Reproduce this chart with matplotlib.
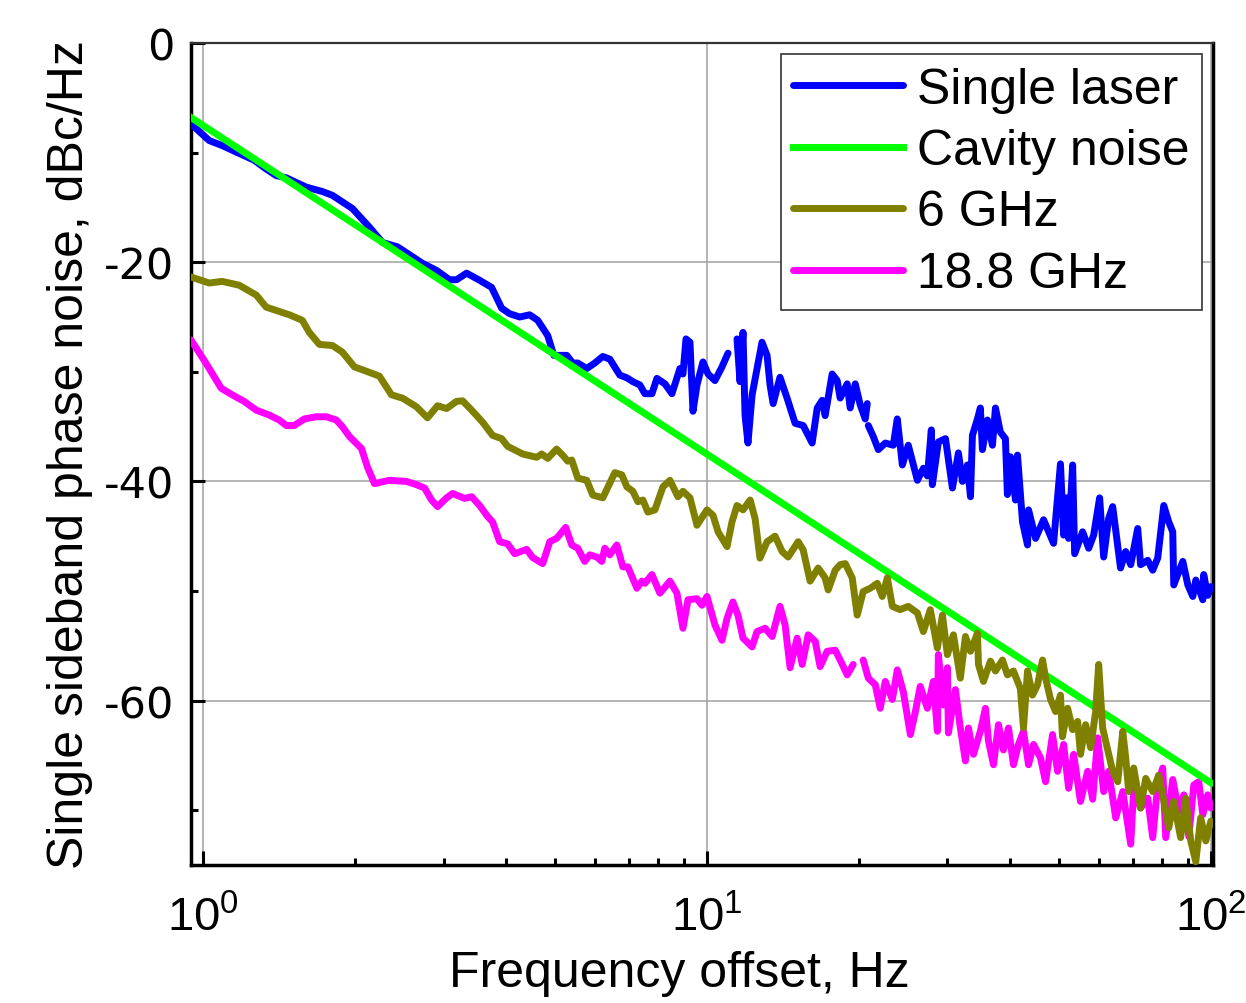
import matplotlib
matplotlib.use("Agg")
import matplotlib.pyplot as plt
from matplotlib.ticker import FixedLocator, LogLocator, NullFormatter, LogFormatterMathtext
import numpy as np

plt.rcParams["axes.unicode_minus"] = False

# Single laser
laser_freq = [0.946, 1.028, 1.091, 1.163, 1.263, 1.334, 1.397, 1.462, 1.602, 1.724, 1.805, 1.978, 2.138, 2.269,
              2.431, 2.603, 2.725, 2.906, 3.084, 3.184, 3.333, 3.538, 3.737, 3.913, 4.058, 4.249, 4.447, 4.613,
              4.83, 4.965, 5.103, 5.268, 5.415, 5.54, 5.772, 5.988, 6.212, 6.415, 6.714, 6.934, 7.127, 7.358,
              7.529, 7.776, 7.955, 8.252, 8.519, 8.837, 8.96, 9.085, 9.252, 9.38, 9.553, 9.818, 10.05, 10.37,
              10.71, 11.01, 11.2, 11.47, 11.63, 11.79, 11.90, 12.06, 12.29, 12.57, 12.86, 13.16, 13.34, 13.53,
              13.96, 14.42, 14.96, 15.52, 16.17, 16.55, 16.93, 17.16, 17.72, 18.13, 18.38, 18.98, 19.24, 19.69,
              20.14, 20.61, 20.80, 20.85, 20.90, 21.38, 21.88, 22.59, 23.43, 23.86, 24.42, 25.09, 26.16, 26.88,
              27.38, 27.88, 28.01, 28.79, 29.74, 30.70, 31.55, 32.14, 32.88, 33.34, 33.64, 34.42, 34.88, 35.21,
              36.03, 36.86, 37.37, 38.22, 39.11, 39.47, 40.02, 40.95, 41.33, 42.29, 43.27, 43.47, 44.89, 46.56,
              48.74, 50.30, 51.03, 51.74, 52.21, 53.18, 53.67, 55.66, 57.22, 58.54, 60.16, 61.28, 62.69, 63.86,
              66.19, 67.76, 69.34, 71.6, 72.54, 74.95, 76.68, 78.45, 80.65, 82.51, 84.03, 84.42, 87.98, 90.03,
              92.1, 93.37, 96.4, 96.8, 98.6, 100.0]
laser_db = [-7.38, -8.9, -9.36, -9.95, -10.7, -11.5, -12.1, -12.3, -13.15, -13.55, -13.9, -15.1, -16.8, -18.2,
            -18.6, -19.5, -20.1, -20.75, -21.6, -21.6, -21.0, -21.65, -22.3, -24.2, -24.7, -25.0, -24.8, -25.3,
            -26.7, -28.5, -28.5, -28.5, -29.2, -29.2, -29.7, -29.2, -28.6, -28.85, -30.3, -30.55, -30.9, -31.2,
            -32.0, -32.0, -30.6, -31.1, -32.0, -29.7, -30.2, -27.0, -27.3, -33.6, -31.2, -29.1, -30.2, -30.8,
            -29.55, -28.3, np.nan, -27.0, -30.9, -26.4, -34.0, -36.5, -32.1, -29.7, -27.3, -28.5, -31.2, -32.9,
            -30.5, -32.4, -34.7, -34.9, -36.5, -33.3, -32.6, -34.0, -30.2, -30.8, -32.4, -31.1, -33.3, -31.1,
            -33.0, -34.3, -32.9, np.nan, -34.9, -35.9, -37.1, -36.5, -36.7, -34.3, -38.5, -36.7, -39.9, -38.8,
            -39.5, -35.3, -40.3, -36.4, -36.1, -40.6, -37.4, -40.0, -38.5, -41.4, -35.8, -34.3, -33.3, -37.1,
            -34.4, -36.7, -33.3, -35.5, -36.1, -41.2, -37.75, -41.7, -37.6, -43.7, -45.8, -42.6, -45.2, -43.5,
            -45.65, -38.4, -44.9, -41.5, -45.2, -38.5, -46.6, -44.6, -46.1, -44.9, -41.5, -46.9, -43.4, -42.3,
            -47.9, -46.4, -47.6, -44.3, -47.6, -47.2, -48.1, -47.0, -42.2, -43.7, -44.6, -49.45, -47.3, -49.45,
            -50.5, -49.0, -50.8, -48.5, -50.4, -49.6]

# Cavity noise (straight 1/f^3 line)
cavity_freq = [0.946, 100.0]
cavity_db = [-6.8, -67.5]

# 6 GHz
ghz6_freq = [0.946, 1.028, 1.091, 1.179, 1.275, 1.334, 1.416, 1.483, 1.573, 1.624, 1.701, 1.805, 1.889, 1.996,
             2.109, 2.238, 2.365, 2.487, 2.652, 2.788, 2.919, 3.042, 3.184, 3.273, 3.411, 3.587, 3.754, 3.913,
             4.021, 4.308, 4.592, 4.699, 4.83, 5.03, 5.17, 5.29, 5.39, 5.54, 5.772, 5.934, 6.212, 6.563, 6.776,
             6.934, 7.127, 7.292, 7.461, 7.633, 7.882, 8.176, 8.443, 8.757, 8.96, 9.252, 9.553, 10.0, 10.28,
             10.52, 10.96, 11.21, 11.47, 11.79, 12.18, 12.46, 12.74, 13.16, 13.65, 14.10, 14.49, 15.17, 15.52,
             16.02, 16.62, 17.16, 17.40, 17.97, 18.38, 18.81, 19.42, 19.87, 20.42, 21.09, 21.78, 22.28, 22.80,
             23.33, 24.18, 25.09, 26.16, 26.88, 27.75, 28.66, 29.33, 30.00, 30.84, 31.83, 32.58, 33.34, 34.42,
             34.58, 35.38, 36.52, 37.37, 38.59, 39.47, 40.58, 41.88, 42.48, 43.27, 44.27, 45.30, 46.35, 46.99,
             48.08, 49.19, 50.30, 50.76, 51.97, 53.18, 54.41, 55.12, 56.43, 57.74, 59.08, 59.90, 61.0, 61.84,
             63.86, 65.35, 66.87, 67.76, 68.71, 70.3, 72.54, 74.27, 76.68, 78.8, 81.38, 82.51, 84.42, 87.11,
             89.2, 91.24, 93.37, 95.46, 97.73, 100.0]
ghz6_db = [-21.35, -21.9, -21.75, -22.1, -23.0, -24.1, -24.5, -24.8, -25.3, -26.4, -27.5, -27.6, -28.2, -29.55,
           -29.95, -30.4, -32.1, -32.4, -33.2, -34.2, -33.1, -33.35, -32.7, -32.65, -33.5, -34.6, -35.8, -36.1,
           -36.8, -37.5, -37.8, -37.5, -37.9, -37.05, -37.6, -38.15, -38.05, -39.7, -39.9, -41.25, -41.5, -39.2,
           -39.4, -40.5, -40.9, -41.85, -41.7, -42.8, -42.6, -40.5, -39.9, -41.4, -40.9, -41.5, -44.0, -42.6,
           -43.1, -44.6, -45.95, -43.7, -42.2, -42.6, -41.7, -43.4, -47.0, -45.5, -45.0, -46.4, -46.9, -45.5,
           -46.25, -49.1, -47.9, -48.8, -49.9, -48.1, -47.6, -47.5, -48.8, -52.2, -50.05, -49.75, -49.3, -50.5,
           -48.8, -51.4, -51.7, -51.4, -52.0, -53.7, -51.7, -55.2, -52.2, -55.8, -54.0, -57.95, -54.15, -55.5,
           -53.85, -56.7, -58.25, -56.4, -57.3, -56.3, -57.65, -57.3, -58.9, -62.5, -57.3, -59.5, -58.55, -56.3,
           -57.95, -59.9, -61.0, -59.5, -63.3, -60.7, -62.65, -61.9, -64.9, -62.2, -64.3, -61.0, -56.7, -62.5,
           -63.7, -66.45, -67.4, -62.8, -65.2, -68.3, -66.15, -69.8, -67.1, -68.3, -66.8, -70.1, -71.6, -69.2,
           -72.5, -68.9, -72.8, -74.7, -70.7, -72.8, -71.0]

# 18.8 GHz
ghz18_freq = [0.946, 1.014, 1.086, 1.142, 1.206, 1.275, 1.353, 1.416, 1.462, 1.517, 1.588, 1.677, 1.756, 1.838,
              1.889, 1.951, 2.062, 2.119, 2.188, 2.343, 2.532, 2.652, 2.751, 2.840, 2.919, 3.042, 3.126, 3.303,
              3.411, 3.538, 3.669, 3.754, 3.877, 4.021, 4.153, 4.386, 4.509, 4.72, 4.875, 5.03, 5.244, 5.39,
              5.54, 5.72, 5.853, 6.043, 6.183, 6.268, 6.415, 6.624, 6.808, 6.966, 7.259, 7.427, 7.529, 7.776,
              8.064, 8.443, 8.717, 8.96, 9.167, 9.553, 9.773, 10.0, 10.37, 10.71, 10.96, 11.26, 11.52, 11.79,
              12.29, 12.57, 13.04, 13.47, 13.96, 14.29, 14.62, 15.10, 15.45, 15.88, 16.40, 16.77, 17.32, 17.97,
              18.38, 18.98, 19.51, 20.0, 20.42, 20.90, 21.58, 22.07, 22.59, 23.33, 23.86, 24.53, 25.33, 25.92,
              26.50, 27.38, 28.14, 28.66, 28.79, 29.46, 30.00, 30.14, 31.12, 31.83, 32.58, 33.03, 33.80, 34.88,
              35.70, 36.20, 37.04, 37.89, 38.76, 39.66, 40.58, 41.52, 42.48, 43.47, 44.48, 45.90, 46.99, 48.52,
              49.64, 51.03, 52.21, 53.42, 55.12, 56.96, 58.28, 59.63, 61.28, 62.69, 64.75, 66.87, 69.34, 70.3,
              72.54, 74.95, 76.68, 78.45, 80.26, 81.38, 84.03, 86.38, 88.39, 90.43, 92.52, 94.65, 96.4, 98.6,
              100.0]
ghz18_db = [-27.1, -29.25, -31.5, -32.1, -32.7, -33.5, -33.95, -34.4, -34.9, -34.9, -34.3, -34.1, -34.1, -34.4,
            -35.0, -35.9, -37.0, -38.7, -40.2, -39.9, -40.0, -40.3, -40.6, -41.7, -42.3, -41.5, -41.1, -41.55,
            -41.4, -42.2, -43.2, -43.7, -45.5, -45.7, -46.6, -46.2, -46.95, -47.5, -45.5, -45.2, -44.2, -45.8,
            -46.1, -47.3, -46.7, -46.9, -47.3, -46.1, -46.7, -45.8, -47.8, -47.8, -49.75, -49.1, -49.3, -48.5,
            -50.2, -49.1, -50.2, -53.4, -50.8, -50.7, -51.3, -50.5, -53.1, -54.5, -52.5, -51.0, -52.2, -54.3,
            -55.1, -53.7, -53.4, -54.15, -51.4, -53.1, -57.0, -54.3, -56.7, -54.0, -54.6, -56.9, -55.5, -55.4,
            -56.3, -57.65, -56.7, np.nan, -56.3, -57.95, -58.55, -60.7, -58.25, -59.9, -57.2, -59.2, -63.1, -61.0,
            -58.7, -60.7, -58.25, -62.8, -55.8, -60.4, -57.0, -62.95, -59.0, -62.5, -65.5, -62.5, -64.9, -62.8,
            -60.7, -63.7, -65.85, -62.2, -64.5, -62.5, -65.85, -64.0, -62.8, -65.85, -64.0, -65.2, -67.4, -63.1,
            -66.45, -64.0, -68.0, -64.9, -69.2, -66.45, -69.0, -63.4, -68.3, -66.45, -70.7, -68.3, -73.1, -68.0,
            -69.8, -68.9, -72.5, -67.7, -66.15, -72.5, -67.2, -70.1, -68.6, -72.4, -67.7, -67.4, -70.4, -68.6,
            -69.8]

y_major = [0, -20, -40, -60]
y_minor = [-10, -30, -50, -70]

fig = plt.figure(figsize=(12.46, 10.04), dpi=100)
ax = fig.add_axes([191 / 1246, 1 - 866 / 1004, 1022 / 1246, 822 / 1004])

lw = 5.0
ax.plot(laser_freq, laser_db, color="#0000ff", lw=lw, label="Single laser", zorder=3,
        solid_joinstyle="round", solid_capstyle="round")
ax.plot(cavity_freq, cavity_db, color="#00ff00", lw=lw, label="Cavity noise", zorder=4)
ax.plot(ghz18_freq, ghz18_db, color="#ff00ff", lw=lw, label="18.8 GHz", zorder=3,
        solid_joinstyle="round", solid_capstyle="round")
ax.plot(ghz6_freq, ghz6_db, color="#808000", lw=lw, label="6 GHz", zorder=5,
        solid_joinstyle="round", solid_capstyle="round")

ax.set_xscale("log")
ax.set_xlim(0.946, 101)
ax.set_ylim(-75, 0)

ax.yaxis.set_major_locator(FixedLocator(y_major))
ax.yaxis.set_minor_locator(FixedLocator(y_minor))
ax.xaxis.set_major_locator(LogLocator(base=10, numticks=10))
ax.xaxis.set_minor_locator(LogLocator(base=10, subs=np.arange(2, 10), numticks=20))
ax.xaxis.set_minor_formatter(NullFormatter())
ax.xaxis.set_major_formatter(LogFormatterMathtext())

ax.grid(True, which="major", color="#a0a0a0", lw=1.1, zorder=0)
ax.set_axisbelow(True)

for side in ["left", "bottom", "right"]:
    ax.spines[side].set_linewidth(2.5)
ax.spines["top"].set_linewidth(1.6)
ax.spines["top"].set_color("#333333")

ax.tick_params(which="both", direction="in", top=False, right=False, width=2.2)
ax.tick_params(which="major", length=10)
ax.tick_params(which="minor", length=5)
ax.tick_params(axis="y", labelsize=31, pad=12)
ax.tick_params(axis="x", labelsize=34, pad=22)
for t in ax.get_yticklabels():
    t.set_fontfamily("DejaVu Sans")
for t in ax.get_xticklabels():
    t.set_fontfamily(["Liberation Sans Narrow", "Liberation Sans"])

ax.set_xlabel("Frequency offset, Hz", fontsize=36, family="Liberation Sans")
ax.xaxis.set_label_coords(0.4775, -0.104)
ax.set_ylabel("Single sideband phase noise, dBc/Hz", fontsize=36, family="Liberation Sans")
ax.yaxis.set_label_coords(-0.096, 0.5)

handles, labels = ax.get_legend_handles_labels()
order = [0, 1, 3, 2]
leg = ax.legend([handles[i] for i in order], [labels[i] for i in order],
                loc="upper right", prop={"family": "Liberation Sans", "size": 36},
                handlelength=2.2, handletextpad=0.28, labelspacing=0.31, borderpad=0.25,
                borderaxespad=0.22, fancybox=False, framealpha=1, edgecolor="#333333")
leg.get_frame().set_linewidth(1.2)

fig.savefig("out.png", dpi=100)
